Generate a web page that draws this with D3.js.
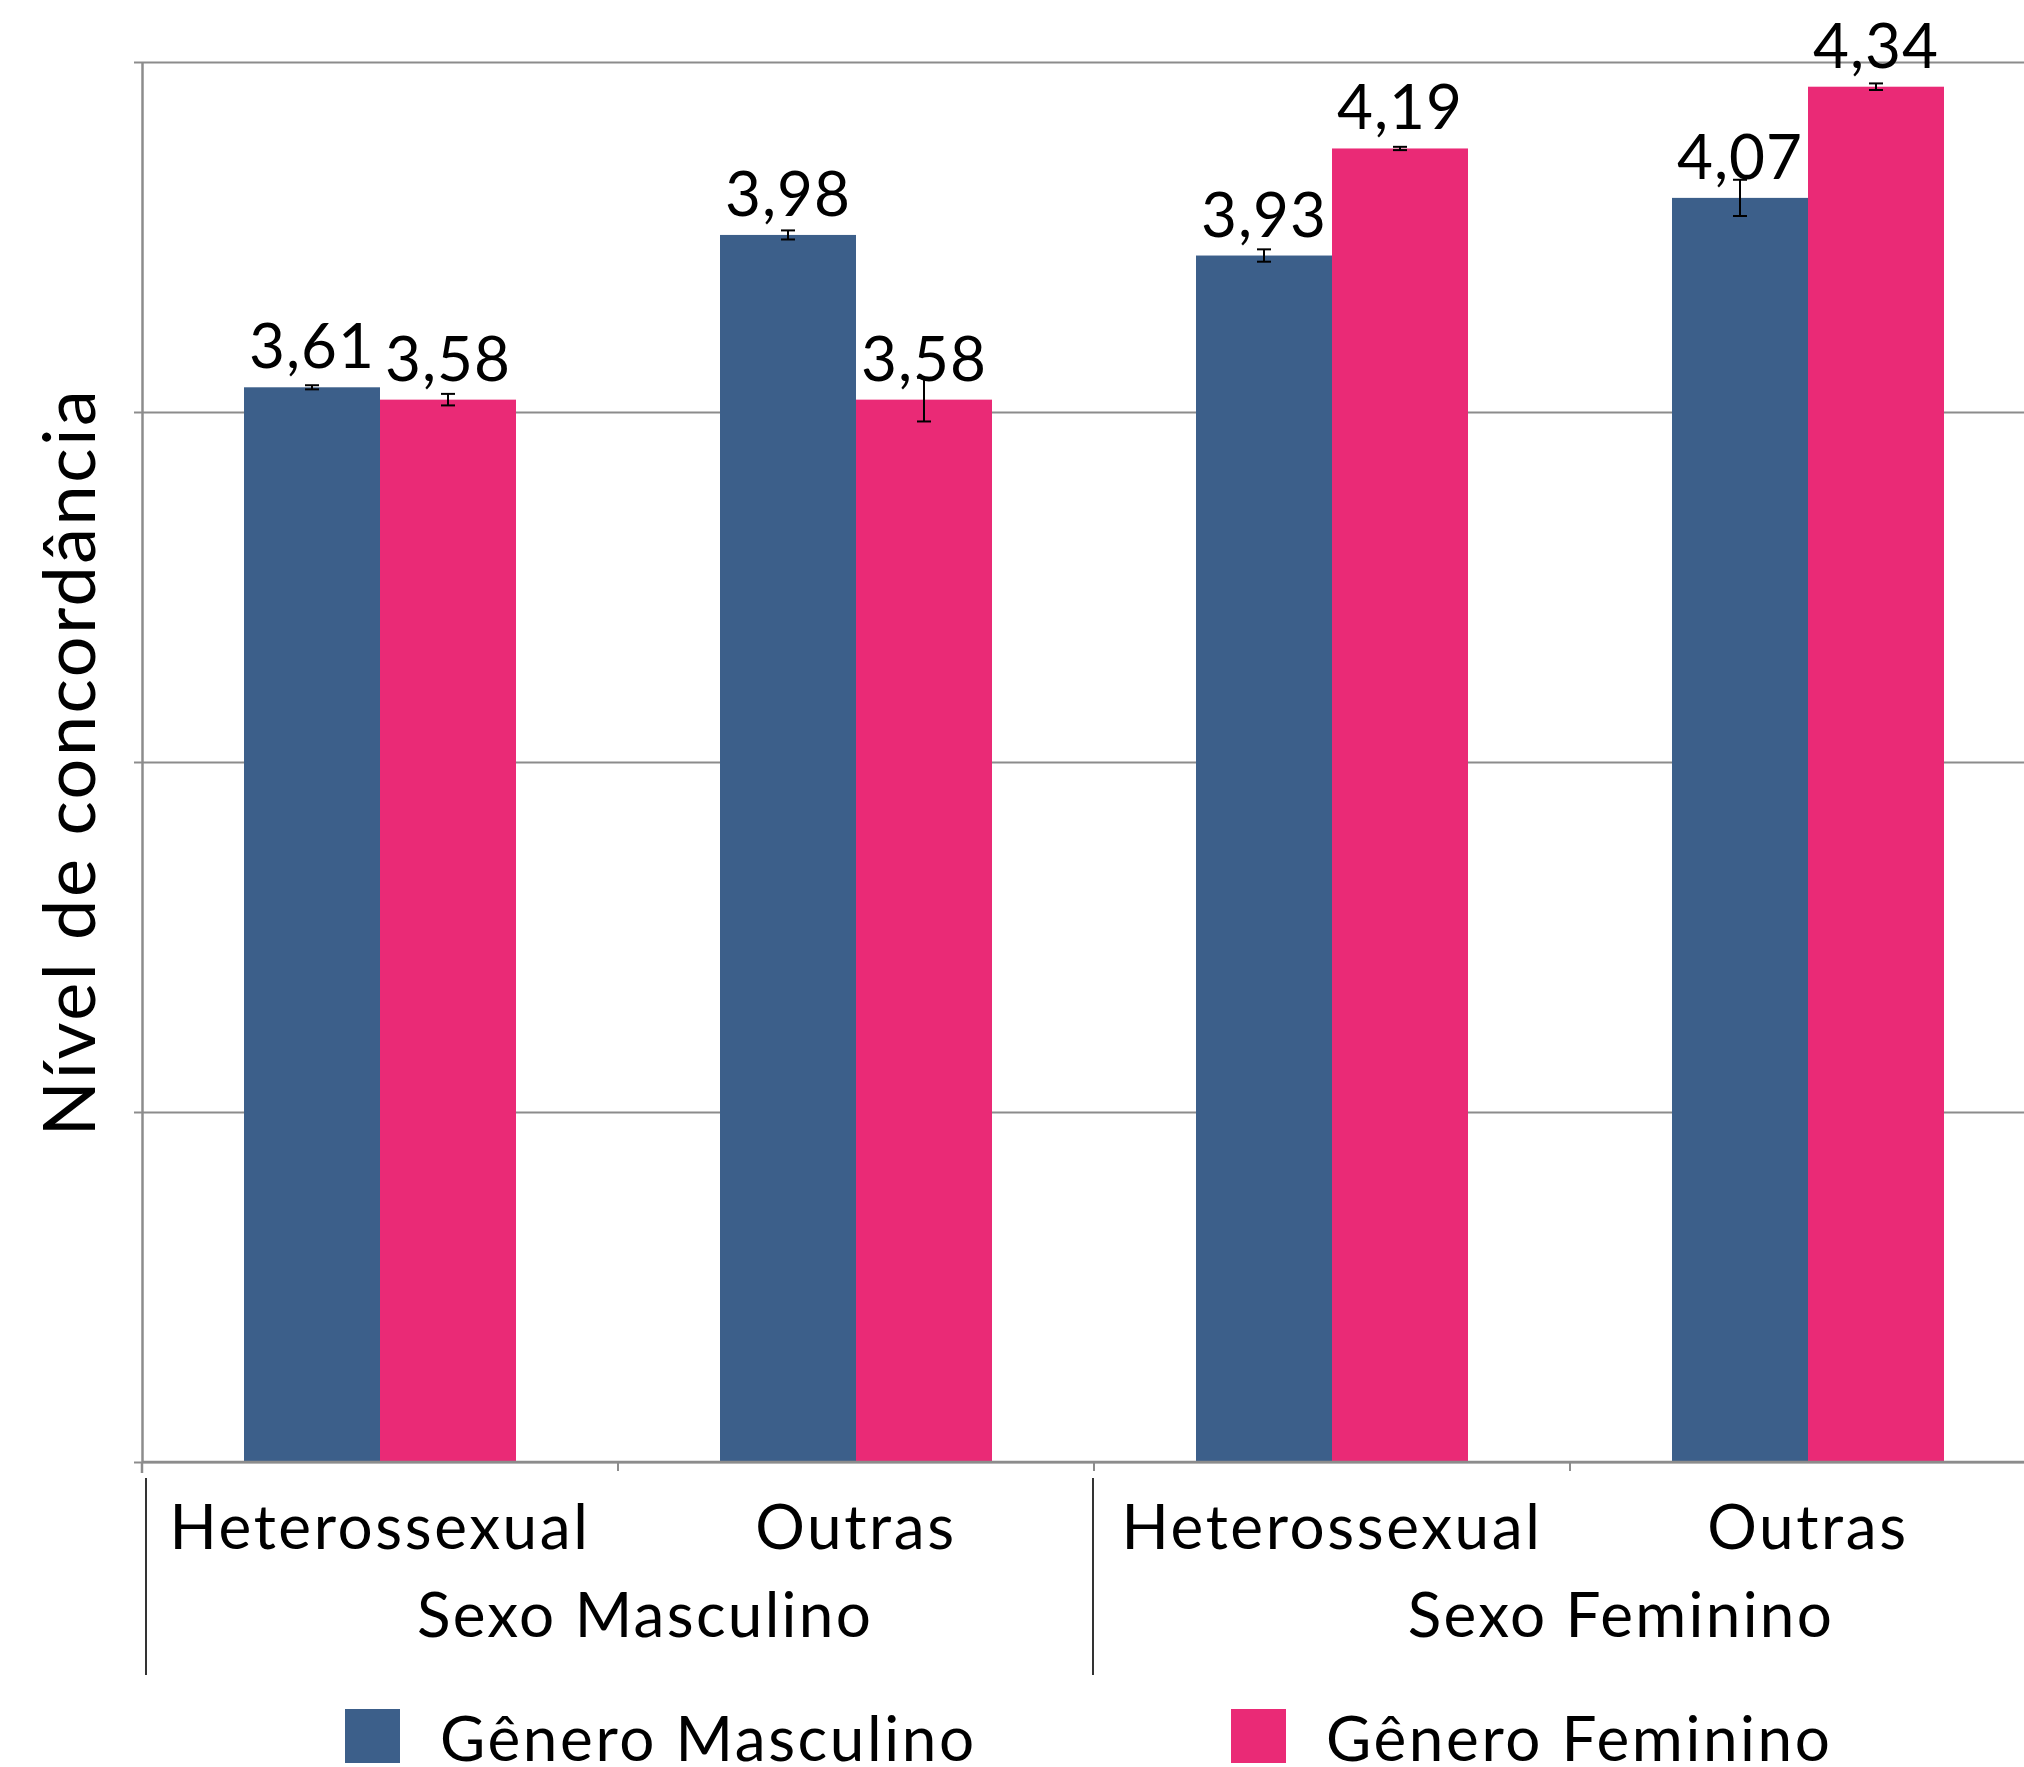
<!DOCTYPE html>
<html>
<head>
<meta charset="utf-8">
<script src="https://cdn.jsdelivr.net/npm/d3@7"></script>
<style>
  html, body { margin: 0; padding: 0; background: #fff; }
  svg { display: block; }
  text { font-family: Lato, "Noto Sans", sans-serif; font-weight: 400; fill: #000; }
</style>
</head>
<body>
<script>
// ---- data ----
const categories = ["Heterossexual", "Outras", "Heterossexual", "Outras"];
const groups = ["Sexo Masculino", "Sexo Feminino"];
const series = ["Gênero Masculino", "Gênero Feminino"];
const masculinoValues = [3.61, 3.98, 3.93, 4.07];
const femininoValues = [3.58, 3.58, 4.19, 4.34];
const masculinoErr = [0.005, 0.011, 0.015, 0.044];
const femininoErr = [0.014, 0.053, 0.004, 0.008];
const yTicks = [1, 1.85, 2.7, 3.55, 4.4];
const colors = ["#3c5f8a", "#ea2a76"];

// ---- layout ----
const W = 2024, H = 1767;
const plotLeft = 142, plotTop = 62, plotBottom = 1462, plotRightFull = 2046;
const gridColor = "#8c8c8c";
const fontSize = 62;

const svg = d3.select("body").append("svg").attr("width", W).attr("height", H);

const y = d3.scaleLinear().domain([1, 4.4]).range([plotBottom, plotTop]);
const x = d3.scaleBand().domain(d3.range(categories.length)).range([plotLeft, plotRightFull]).padding(0);
const xs = d3.scaleBand().domain(d3.range(series.length)).range([0, x.bandwidth()]).paddingInner(0).paddingOuter(0.75);

const locale = d3.formatLocale({decimal: ",", thousands: ".", grouping: [3], currency: ["R$", ""]});
const fmt = locale.format(".2f");

// gridlines
svg.append("g")
  .attr("transform", `translate(${plotLeft},0)`)
  .call(d3.axisLeft(y).tickValues(yTicks).tickFormat("").tickSize(-(W - plotLeft)).tickSizeOuter(0))
  .call(g => g.select(".domain").remove())
  .call(g => g.selectAll("line").attr("stroke", gridColor).attr("stroke-width", 2));

// left axis with small outer ticks
svg.append("g")
  .attr("transform", `translate(${plotLeft},0)`)
  .call(d3.axisLeft(y).tickValues(yTicks).tickFormat("").tickSize(8).tickSizeOuter(0))
  .call(g => g.select(".domain").attr("stroke", gridColor).attr("stroke-width", 2.5))
  .call(g => g.selectAll("line").attr("stroke", gridColor).attr("stroke-width", 2));

// extend axis line slightly below baseline
svg.append("line")
  .attr("x1", plotLeft).attr("x2", plotLeft)
  .attr("y1", plotBottom).attr("y2", plotBottom + 11)
  .attr("stroke", gridColor).attr("stroke-width", 2.5);

// bars
const data = categories.map((c, i) => ({
  i,
  vals: [
    {s: 0, v: masculinoValues[i], e: masculinoErr[i]},
    {s: 1, v: femininoValues[i], e: femininoErr[i]}
  ]
}));

const cat = svg.append("g").selectAll("g").data(data).join("g")
  .attr("transform", d => `translate(${x(d.i)},0)`);

cat.selectAll("rect").data(d => d.vals).join("rect")
  .attr("x", d => xs(d.s))
  .attr("width", xs.bandwidth())
  .attr("y", d => y(d.v))
  .attr("height", d => plotBottom - y(d.v))
  .attr("fill", d => colors[d.s]);

// bottom axis (drawn above bars)
svg.append("line")
  .attr("x1", plotLeft).attr("x2", W)
  .attr("y1", plotBottom).attr("y2", plotBottom)
  .attr("stroke", gridColor).attr("stroke-width", 2.5);
svg.append("g").selectAll("line").data(d3.range(categories.length)).join("line")
  .attr("x1", i => x(i)).attr("x2", i => x(i))
  .attr("y1", plotBottom).attr("y2", plotBottom + 9)
  .attr("stroke", gridColor).attr("stroke-width", 2);

// error bars
const capW = 14;
const eb = cat.selectAll("g.err").data(d => d.vals).join("g").attr("class", "err")
  .attr("transform", d => `translate(${xs(d.s) + xs.bandwidth() / 2},0)`);
eb.append("line").attr("x1", 0).attr("x2", 0)
  .attr("y1", d => y(d.v + d.e)).attr("y2", d => y(d.v - d.e))
  .attr("stroke", "#000").attr("stroke-width", 2);
eb.append("line").attr("x1", -capW / 2).attr("x2", capW / 2)
  .attr("y1", d => y(d.v + d.e)).attr("y2", d => y(d.v + d.e))
  .attr("stroke", "#000").attr("stroke-width", 2);
eb.append("line").attr("x1", -capW / 2).attr("x2", capW / 2)
  .attr("y1", d => y(d.v - d.e)).attr("y2", d => y(d.v - d.e))
  .attr("stroke", "#000").attr("stroke-width", 2);

// value labels
cat.selectAll("text.val").data(d => d.vals).join("text").attr("class", "val")
  .attr("x", d => xs(d.s) + xs.bandwidth() / 2)
  .attr("y", d => y(d.v) - 19)
  .attr("text-anchor", "middle")
  .attr("font-size", fontSize)
  .attr("letter-spacing", 1)
  .text(d => fmt(d.v));

// category labels
svg.append("g").selectAll("text").data(categories).join("text")
  .attr("x", (d, i) => x(i) + x.bandwidth() / 2)
  .attr("y", 1549)
  .attr("text-anchor", "middle")
  .attr("font-size", fontSize)
  .attr("letter-spacing", 2.6)
  .text(d => d);

// group separators and labels
const groupOffsets = [27, 51];
groups.forEach((gname, gi) => {
  const gx = x(gi * 2);
  svg.append("line")
    .attr("x1", gx + (gi === 0 ? 4 : -1)).attr("x2", gx + (gi === 0 ? 4 : -1))
    .attr("y1", 1478).attr("y2", 1675)
    .attr("stroke", "#000").attr("stroke-width", 1.6);
  svg.append("text")
    .attr("x", x(gi * 2) + x.bandwidth() + groupOffsets[gi])
    .attr("y", 1637)
    .attr("text-anchor", "middle")
    .attr("font-size", fontSize)
    .attr("letter-spacing", 2.3)
    .text(gname);
});

// y axis title
svg.append("text")
  .attr("transform", `translate(95,${(plotTop + plotBottom) / 2}) rotate(-90)`)
  .attr("text-anchor", "middle")
  .attr("font-size", 72)
  .attr("letter-spacing", 2.5)
  .text("Nível de concordância");

// legend
const legendX = [345, 1231];
series.forEach((s, i) => {
  svg.append("rect")
    .attr("x", legendX[i]).attr("y", 1709)
    .attr("width", 55).attr("height", 54)
    .attr("fill", colors[i]);
  svg.append("text")
    .attr("x", legendX[i] + 95).attr("y", 1761)
    .attr("font-size", fontSize)
    .attr("letter-spacing", 2.6)
    .text(s);
});
</script>
</body>
</html>
